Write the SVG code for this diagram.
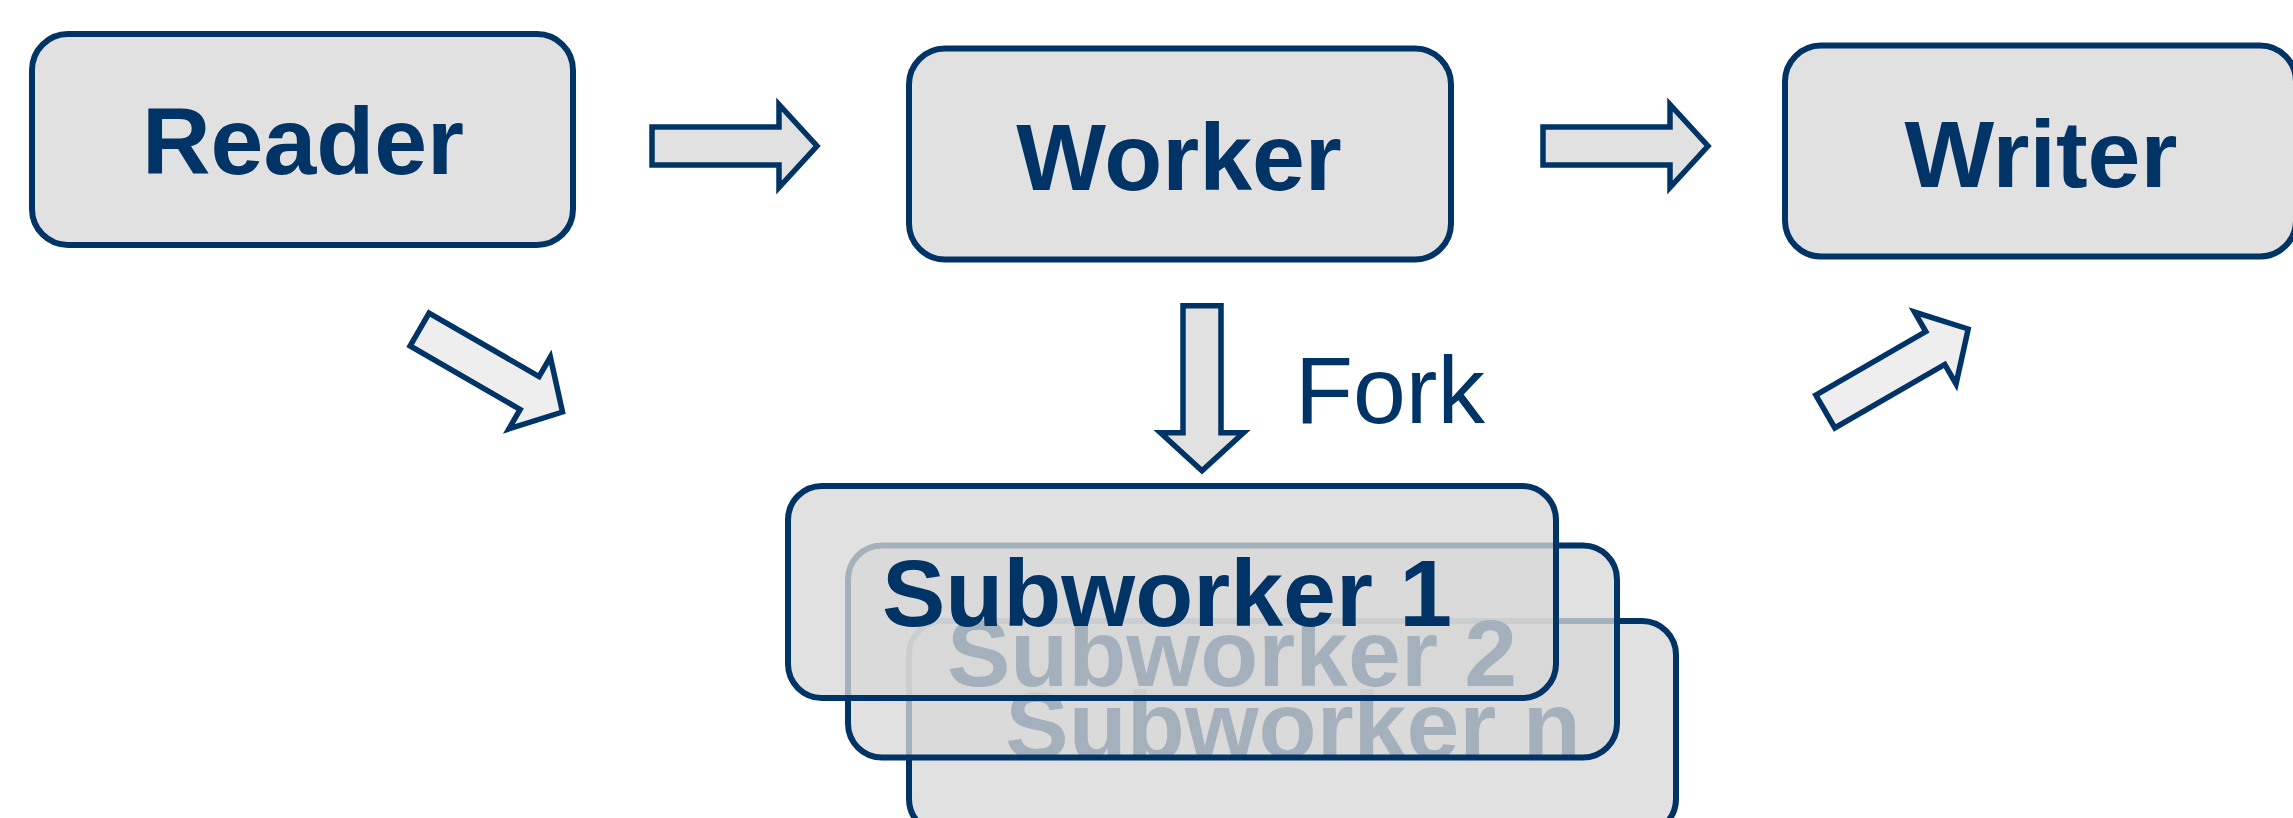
<svg xmlns="http://www.w3.org/2000/svg" xmlns:xlink="http://www.w3.org/1999/xlink" width="2293" height="818" viewBox="0 0 2293 818">
  <style>
    .box { fill: #D7D7D7; fill-opacity: 0.76; stroke: #003366; stroke-width: 6; }
    .title { font-family: "Liberation Sans", Arial, sans-serif; font-weight: bold; font-size: 95px; fill: #003366; text-anchor: middle; }
    .label { font-family: "Liberation Sans", Arial, sans-serif; font-size: 95px; fill: #003366; }
    .arrow { stroke: #003366; stroke-width: 5.5; stroke-linejoin: miter; }
    .arrow-main { fill: #E1E1E1; }
    .arrow-side { fill: #EEEEEE; }
  </style>
  <defs>
    <!-- block arrow pointing along +x, tail centred on the origin -->
    <polygon id="blockArrow" points="3,-19 130,-19 130,-41.5 168,0 130,41.5 130,19 3,19"/>
  </defs>

  <rect width="2293" height="818" fill="#FFFFFF"/>

  <g id="reader">
    <rect class="box" x="32" y="34" width="541" height="211" rx="36" ry="36"/>
    <text class="title" x="303" y="174">Reader</text>
  </g>

  <g id="worker">
    <rect class="box" x="909" y="48.5" width="542" height="211" rx="36" ry="36"/>
    <text class="title" x="1179" y="190">Worker</text>
  </g>

  <g id="writer">
    <rect class="box" x="1785" y="45.5" width="511" height="211" rx="36" ry="36"/>
    <text class="title" x="2041" y="187">Writer</text>
  </g>

  <!-- stacked subworkers, back to front so the translucent fills tint what lies beneath -->
  <g id="subworker-n">
    <rect class="box" x="909" y="621" width="767" height="212" rx="34" ry="34"/>
    <text class="title" x="1293" y="758">Subworker n</text>
  </g>

  <g id="subworker-2">
    <rect class="box" x="848" y="545.5" width="769" height="212" rx="34" ry="34"/>
    <text class="title" x="1232" y="686">Subworker 2</text>
  </g>

  <g id="subworker-1">
    <rect class="box" x="788" y="486" width="768" height="212" rx="34" ry="34"/>
    <text class="title" x="1167" y="626">Subworker 1</text>
  </g>

  <g id="connectors">
    <use xlink:href="#blockArrow" class="arrow arrow-main" transform="translate(649,146)"/>
    <use xlink:href="#blockArrow" class="arrow arrow-main" transform="translate(1540,146)"/>
    <use xlink:href="#blockArrow" class="arrow arrow-main" transform="translate(1202,302.7) rotate(90)"/>
    <use xlink:href="#blockArrow" class="arrow arrow-side" transform="translate(417,328) rotate(30)"/>
    <use xlink:href="#blockArrow" class="arrow arrow-side" transform="translate(1822.7,413) rotate(-30)"/>
    <text class="label" x="1295" y="423">Fork</text>
  </g>
</svg>
